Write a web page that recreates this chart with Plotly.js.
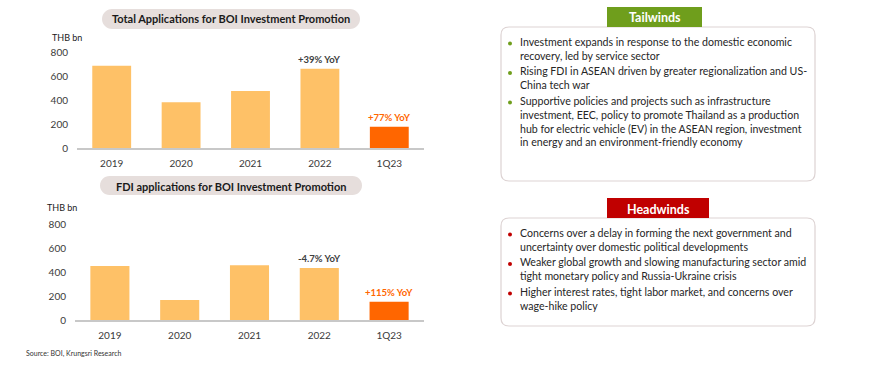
<!DOCTYPE html>
<html><head><meta charset="utf-8">
<script src="https://cdn.plot.ly/plotly-3.0.1.min.js"></script>
<style>html,body{margin:0;padding:0;background:#fff}#c{width:870px;height:368px}</style>
</head><body><div id="c"></div>
<script>
const categories = ['2019','2020','2021','2022','1Q23'];
const totalVals = [686, 381, 475, 661, 178];
const fdiVals = [450, 167, 456, 433, 153];
const totalYoY = {'2022': '+39% YoY', '1Q23': '+77% YoY'};
const fdiYoY = {'2022': '-4.7% YoY', '1Q23': '+115% YoY'};
const yTicks = [0, 200, 400, 600, 800];
const tailwinds = [
  'Investment expands in response to the domestic economic<br>recovery, led by service sector',
  'Rising FDI in ASEAN driven by greater regionalization and US-<br>China tech war',
  'Supportive policies and projects such as infrastructure<br>investment, EEC, policy to promote Thailand as a production<br>hub for electric vehicle (EV) in the ASEAN region, investment<br>in energy and an environment-friendly economy'
];
const headwinds = [
  'Concerns over a delay in forming the next government and<br>uncertainty over domestic political developments',
  'Weaker global growth and slowing manufacturing sector amid<br>tight monetary policy and Russia-Ukraine crisis',
  'Higher interest rates, tight labor market, and concerns over<br>wage-hike policy'
];

const W = 870, H = 368;
const X = p => p / W;
const Y = p => 1 - p / H;
const FONT = 'Lato, "Open Sans", sans-serif';
const LIGHT = '#FEC167', ORANGE = '#FF6600', TXT = '#3a3a3a';
const barColors = categories.map(c => c === '1Q23' ? ORANGE : LIGHT);

function roundRect(x0, y0, x1, y1, r) {
  return `M ${X(x0 + r)},${Y(y0)} L ${X(x1 - r)},${Y(y0)} Q ${X(x1)},${Y(y0)} ${X(x1)},${Y(y0 + r)} ` +
    `L ${X(x1)},${Y(y1 - r)} Q ${X(x1)},${Y(y1)} ${X(x1 - r)},${Y(y1)} ` +
    `L ${X(x0 + r)},${Y(y1)} Q ${X(x0)},${Y(y1)} ${X(x0)},${Y(y1 - r)} ` +
    `L ${X(x0)},${Y(y0 + r)} Q ${X(x0)},${Y(y0)} ${X(x0 + r)},${Y(y0)} Z`;
}
function pill(x0, y0, x1, y1) {
  const r = (y1 - y0) / 2, k = r * 0.552;
  const cy = y0 + r;
  return `M ${X(x0 + r)},${Y(y0)} L ${X(x1 - r)},${Y(y0)} ` +
    `C ${X(x1 - r + k)},${Y(y0)} ${X(x1)},${Y(cy - k)} ${X(x1)},${Y(cy)} ` +
    `C ${X(x1)},${Y(cy + k)} ${X(x1 - r + k)},${Y(y1)} ${X(x1 - r)},${Y(y1)} ` +
    `L ${X(x0 + r)},${Y(y1)} ` +
    `C ${X(x0 + r - k)},${Y(y1)} ${X(x0)},${Y(cy + k)} ${X(x0)},${Y(cy)} ` +
    `C ${X(x0)},${Y(cy - k)} ${X(x0 + r - k)},${Y(y0)} ${X(x0 + r)},${Y(y0)} Z`;
}

const traces = [
  {type: 'bar', x: categories, y: totalVals, marker: {color: barColors}, xaxis: 'x', yaxis: 'y', hoverinfo: 'none'},
  {type: 'bar', x: categories, y: fdiVals, marker: {color: barColors}, xaxis: 'x2', yaxis: 'y2', hoverinfo: 'none'}
];

const xCommon = {type: 'category', range: [-0.5, categories.length - 0.5], autorange: false, showgrid: false, zeroline: false,
  showline: true, linecolor: '#c8c8c8', linewidth: 1.5,
  ticks: '', tickfont: {family: FONT, size: 10, color: TXT}, ticklabelstandoff: 5, fixedrange: true};
const yCommon = {range: [0, 800], autorange: false, tickvals: yTicks, showgrid: false, zeroline: false, showline: false, ticks: '',
  tickfont: {family: FONT, size: 10, color: TXT}, ticklabelstandoff: 8, fixedrange: true};

const annotations = [];
function yoyAnns(obj, vals, xa, ya) {
  categories.forEach((c, i) => {
    if (obj[c]) annotations.push({x: i, y: vals[i], xref: xa, yref: ya, text: '<b>' + obj[c] + '</b>', showarrow: false,
      yanchor: 'bottom', yshift: 2, font: {family: FONT, size: 9.5, color: c === '1Q23' ? ORANGE : '#404040'}});
  });
}
yoyAnns(totalYoY, totalVals, 'x', 'y');
yoyAnns(fdiYoY, fdiVals, 'x2', 'y2');

function txt(x, y, text, opts) {
  annotations.push(Object.assign({xref: 'paper', yref: 'paper', x: X(x), y: Y(y), text: text, showarrow: false,
    xanchor: 'left', yanchor: 'middle', font: {family: FONT, size: 10, color: TXT}}, opts || {}));
}
txt(231, 19, '<b>Total Applications for BOI Investment Promotion</b>', {xanchor: 'center', font: {family: FONT, size: 11, color: '#1a1a1a'}});
txt(231, 186, '<b>FDI applications for BOI Investment Promotion</b>', {xanchor: 'center', font: {family: FONT, size: 11, color: '#1a1a1a'}});
txt(50, 37, 'THB bn', {font: {family: FONT, size: 9, color: '#1a1a1a'}});
txt(45, 208, 'THB bn', {font: {family: FONT, size: 9, color: '#1a1a1a'}});
txt(24, 353, 'Source: BOI, Krungsri Research', {font: {family: FONT, size: 7, color: '#333'}});
txt(655, 17, '<b>Tailwinds</b>', {xanchor: 'center', font: {family: FONT, size: 12.5, color: '#fff'}});
txt(658, 209, '<b>Headwinds</b>', {xanchor: 'center', font: {family: FONT, size: 12.5, color: '#fff'}});

const shapes = [
  {type: 'path', xref: 'paper', yref: 'paper', path: pill(102, 9, 360, 29), fillcolor: '#E6DEDC', line: {width: 0}, layer: 'below'},
  {type: 'path', xref: 'paper', yref: 'paper', path: pill(100, 176, 362, 195), fillcolor: '#E6DEDC', line: {width: 0}, layer: 'below'},
  {type: 'path', xref: 'paper', yref: 'paper', path: roundRect(501, 27, 815, 181, 8), fillcolor: '#fff', line: {color: '#DDD3D3', width: 1.2}, layer: 'below'},
  {type: 'path', xref: 'paper', yref: 'paper', path: roundRect(501, 218, 815, 326, 8), fillcolor: '#fff', line: {color: '#DDD3D3', width: 1.2}, layer: 'below'},
  {type: 'rect', xref: 'paper', yref: 'paper', x0: X(607), x1: X(702), y0: Y(27), y1: Y(7), fillcolor: '#6F9E1C', line: {width: 0}},
  {type: 'rect', xref: 'paper', yref: 'paper', x0: X(607), x1: X(709), y0: Y(218), y1: Y(198), fillcolor: '#C00000', line: {width: 0}}
];

function bulletList(items, startY, color) {
  let y = startY;
  items.forEach(t => {
    const n = t.split('<br>').length;
    shapes.push({type: 'circle', xref: 'paper', yref: 'paper', x0: X(508), x1: X(512), y0: Y(y + 2), y1: Y(y - 2), fillcolor: color, line: {width: 0}});
    annotations.push({xref: 'paper', yref: 'paper', x: X(519), y: Y(y - 9), text: t, showarrow: false, xanchor: 'left', yanchor: 'top',
      align: 'left', borderpad: 0, font: {family: FONT, size: 10.6, color: '#262626'}});
    y += n * 14 + 1.5;
  });
}
bulletList(tailwinds, 43.5, '#6F9E1C');
bulletList(headwinds, 234.5, '#C00000');

const layout = {
  width: W, height: H, margin: {l: 0, r: 0, t: 0, b: 0}, paper_bgcolor: '#fff', plot_bgcolor: 'rgba(0,0,0,0)',
  showlegend: false, bargap: 0.44,
  xaxis: Object.assign({}, xCommon, {domain: [X(77), X(424)], anchor: 'y'}),
  yaxis: Object.assign({}, yCommon, {domain: [Y(148), Y(52)], anchor: 'x'}),
  xaxis2: Object.assign({}, xCommon, {domain: [X(75), X(424)], anchor: 'y2'}),
  yaxis2: Object.assign({}, yCommon, {domain: [Y(320), Y(224)], anchor: 'x2'}),
  shapes: shapes, annotations: annotations
};
Plotly.newPlot('c', traces, layout, {staticPlot: true, displayModeBar: false});
</script></body></html>
